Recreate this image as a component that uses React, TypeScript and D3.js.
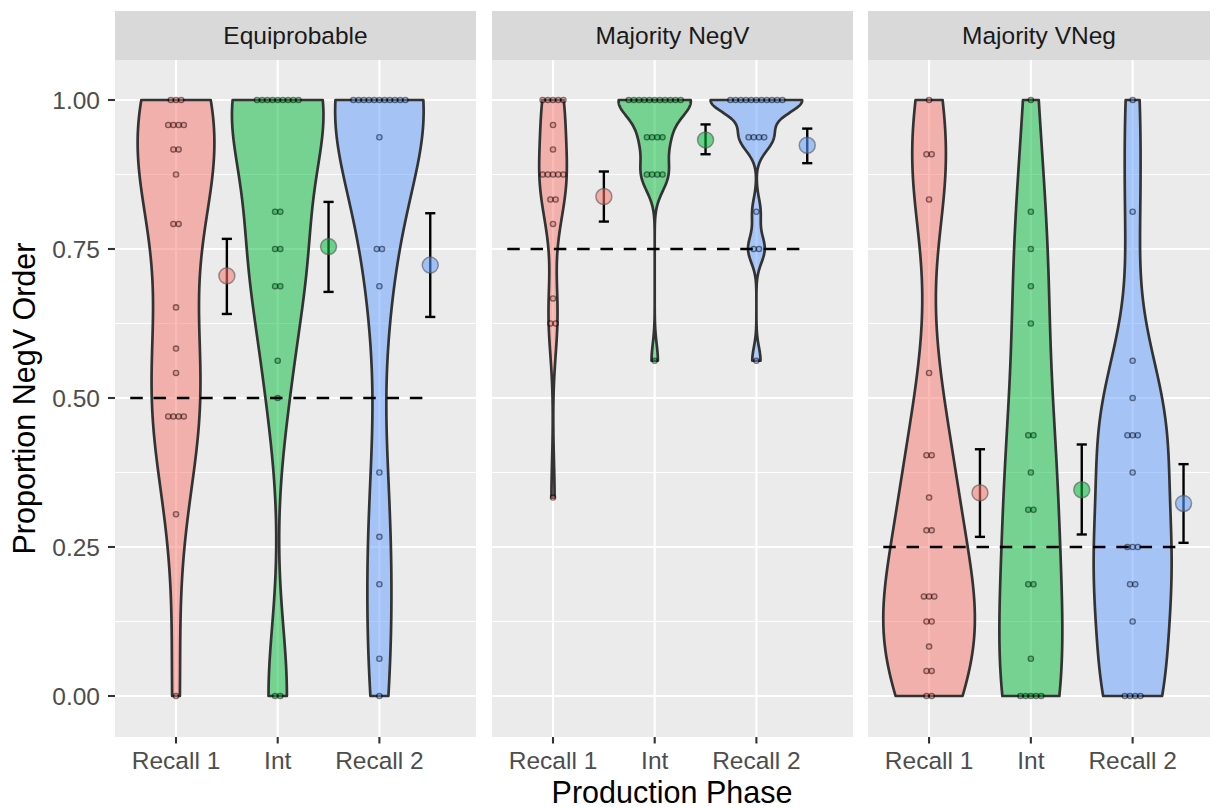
import React from 'react'
import * as d3 from 'd3'

// phases on the x axis, one facet per condition
const phases = ['Recall 1', 'Int', 'Recall 2']
const conditions = ['Equiprobable', 'Majority NegV', 'Majority VNeg']
const baselines = [0.5, 0.75, 0.25]
const phaseColors = ['#F8766D', '#00BA38', '#619CFF']

const yTicks = [0, 0.25, 0.5, 0.75, 1]
const yTickLabels = ['0.00', '0.25', '0.50', '0.75', '1.00']
const yMinor = [0.125, 0.375, 0.625, 0.875]

// per-participant proportions
const equiRecall1 = [1, 1, 1, 0.958, 0.958, 0.958, 0.958, 0.917, 0.917, 0.875, 0.792, 0.792, 0.652, 0.583, 0.542, 0.469, 0.469, 0.469, 0.469, 0.305, 0]
const equiInt = [1, 1, 1, 1, 1, 1, 1, 1, 1, 0.8125, 0.8125, 0.75, 0.75, 0.6875, 0.6875, 0.5625, 0.5, 0, 0]
const equiRecall2 = [1, 1, 1, 1, 1, 1, 1, 1, 1, 1, 1, 0.9375, 0.75, 0.75, 0.6875, 0.375, 0.267, 0.1875, 0.0625, 0]

const negvRecall1 = [1, 1, 1, 1, 1, 0.958, 0.917, 0.875, 0.875, 0.875, 0.875, 0.875, 0.833, 0.833, 0.792, 0.667, 0.625, 0.625, 0.333]
const negvInt = [1, 1, 1, 1, 1, 1, 1, 1, 1, 1, 1, 0.9375, 0.9375, 0.9375, 0.9375, 0.875, 0.875, 0.875, 0.875, 0.5625]
const negvRecall2 = [1, 1, 1, 1, 1, 1, 1, 1, 1, 1, 1, 0.9375, 0.9375, 0.9375, 0.9375, 0.8125, 0.75, 0.75, 0.5625]

const vnegRecall1 = [1, 0.909, 0.909, 0.833, 0.542, 0.404, 0.404, 0.333, 0.278, 0.278, 0.167, 0.167, 0.167, 0.125, 0.125, 0.083, 0.042, 0.042, 0, 0]
const vnegInt = [1, 0.8125, 0.75, 0.6875, 0.625, 0.4375, 0.4375, 0.375, 0.3125, 0.3125, 0.1875, 0.1875, 0.0625, 0, 0, 0, 0, 0]
const vnegRecall2 = [1, 0.8125, 0.5625, 0.5, 0.4375, 0.4375, 0.4375, 0.375, 0.25, 0.25, 0.25, 0.1875, 0.1875, 0.125, 0, 0, 0, 0]

// group means with error bars (lo / hi), per condition in phase order
const meanEqui = [0.705, 0.754, 0.723]
const loEqui = [0.641, 0.678, 0.636]
const hiEqui = [0.767, 0.829, 0.81]
const meanNegv = [0.838, 0.933, 0.924]
const loNegv = [0.796, 0.909, 0.894]
const hiNegv = [0.88, 0.959, 0.952]
const meanVneg = [0.341, 0.346, 0.323]
const loVneg = [0.267, 0.271, 0.257]
const hiVneg = [0.414, 0.422, 0.389]

const groups = [
  [equiRecall1, equiInt, equiRecall2],
  [negvRecall1, negvInt, negvRecall2],
  [vnegRecall1, vnegInt, vnegRecall2],
]
const means = [meanEqui, meanNegv, meanVneg]
const los = [loEqui, loNegv, loVneg]
const his = [hiEqui, hiNegv, hiVneg]

const W = 1217
const H = 808
const panelTop = 60
const panelBottom = 737
const stripTop = 11
const panels = [
  { x0: 115, x1: 476, dom: [0.4, 3.95] },
  { x0: 492, x1: 853, dom: [0.4, 3.95] },
  { x0: 868, x1: 1210, dom: [0.4, 3.76] },
]
const font = '"Liberation Sans", Arial, Helvetica, sans-serif'

const y = d3.scaleLinear().domain([-0.0688, 1.0671]).range([panelBottom, panelTop])

// gaussian kde with R's bw.nrd0, trimmed to the data range
function kde(values: number[]) {
  const n = values.length
  const sorted = values.slice().sort(d3.ascending)
  const sd = d3.deviation(values) || 0
  const iqr = d3.quantileSorted(sorted, 0.75) - d3.quantileSorted(sorted, 0.25)
  let lo = Math.min(sd, iqr / 1.34)
  if (!lo) lo = sd || Math.abs(sorted[0]) || 1
  const bw = 0.9 * lo * Math.pow(n, -0.2)
  const [mn, mx] = d3.extent(values) as [number, number]
  return d3.range(512).map((i) => {
    const v = mn + ((mx - mn) * i) / 511
    const d = d3.mean(values, (x) => Math.exp(-0.5 * ((v - x) / bw) ** 2)) / (bw * Math.sqrt(2 * Math.PI))
    return { v, d }
  })
}

function Panel({ p }: { p: number }) {
  const { x0, x1, dom } = panels[p]
  const x = d3.scaleLinear().domain(dom).range([x0, x1])
  const unit = x(2) - x(1)
  const dens = groups[p].map(kde)
  const maxD = d3.max(dens.flat(), (d) => d.d)
  const dotR = 2.6
  const dotStep = 5.2

  return (
    <g>
      <rect x={x0} y={panelTop} width={x1 - x0} height={panelBottom - panelTop} fill="#EBEBEB" />
      {yMinor.map((t) => (
        <line key={'mn' + t} x1={x0} x2={x1} y1={y(t)} y2={y(t)} stroke="#fff" strokeWidth={1} />
      ))}
      {yTicks.map((t) => (
        <line key={'mj' + t} x1={x0} x2={x1} y1={y(t)} y2={y(t)} stroke="#fff" strokeWidth={2.1} />
      ))}
      {phases.map((ph, i) => (
        <line key={'v' + ph} x1={x(i + 1)} x2={x(i + 1)} y1={panelTop} y2={panelBottom} stroke="#fff" strokeWidth={2.1} />
      ))}

      {/* violins */}
      {dens.map((pts, i) => {
        const cx = x(i + 1)
        const area = d3
          .area<{ v: number; d: number }>()
          .y((d) => y(d.v))
          .x0((d) => cx - (d.d / maxD) * 0.45 * unit)
          .x1((d) => cx + (d.d / maxD) * 0.45 * unit)
        return (
          <path
            key={'vio' + i}
            d={area(pts) + 'Z'}
            fill={phaseColors[i]}
            fillOpacity={0.5}
            stroke="#333333"
            strokeWidth={2.7}
            strokeLinejoin="round"
          />
        )
      })}

      {/* dot plots */}
      {groups[p].map((vals, i) => {
        const cx = x(i + 1)
        const bins = d3.rollups(vals, (v) => v.length, (v) => v)
        return bins.flatMap(([val, k]) =>
          d3.range(k).map((j) => (
            <circle
              key={`d${i}-${val}-${j}`}
              cx={cx + (j - (k - 1) / 2) * dotStep}
              cy={y(val)}
              r={dotR}
              fill={phaseColors[i]}
              stroke="#000"
              strokeWidth={1.4}
              opacity={0.5}
            />
          ))
        )
      })}

      {/* chance / input line */}
      <line
        x1={x(0.55)}
        x2={x(3.45)}
        y1={y(baselines[p])}
        y2={y(baselines[p])}
        stroke="#000"
        strokeWidth={2.4}
        strokeDasharray="12.5 10.8"
      />

      {/* means and error bars */}
      {phases.map((ph, i) => {
        const mx = x(i + 1.5)
        const cap = 0.05 * unit
        return (
          <g key={'m' + ph}>
            <line x1={mx} x2={mx} y1={y(los[p][i])} y2={y(his[p][i])} stroke="#000" strokeWidth={2.4} />
            <line x1={mx - cap} x2={mx + cap} y1={y(los[p][i])} y2={y(los[p][i])} stroke="#000" strokeWidth={2.4} />
            <line x1={mx - cap} x2={mx + cap} y1={y(his[p][i])} y2={y(his[p][i])} stroke="#000" strokeWidth={2.4} />
            <circle cx={mx} cy={y(means[p][i])} r={8} fill={phaseColors[i]} fillOpacity={0.55} stroke="#555" strokeOpacity={0.6} strokeWidth={1.5} />
          </g>
        )
      })}

      {/* strip */}
      <rect x={x0} y={stripTop} width={x1 - x0} height={panelTop - stripTop} fill="#D9D9D9" />
      <text x={(x0 + x1) / 2} y={(stripTop + panelTop) / 2} dy="0.35em" textAnchor="middle" fontSize={24.5} fill="#1A1A1A" fontFamily={font}>
        {conditions[p]}
      </text>

      {/* x axis */}
      {phases.map((ph, i) => (
        <g key={'xt' + ph}>
          <line x1={x(i + 1)} x2={x(i + 1)} y1={panelBottom} y2={panelBottom + 6.5} stroke="#333" strokeWidth={2.1} />
          <text x={x(i + 1)} y={769} textAnchor="middle" fontSize={24.5} fill="#4D4D4D" fontFamily={font}>
            {ph}
          </text>
        </g>
      ))}
    </g>
  )
}

export default function App() {
  return (
    <svg width={W} height={H} style={{ position: 'absolute', left: 0, top: 0, background: '#fff' }}>
      {panels.map((_, p) => (
        <Panel key={p} p={p} />
      ))}
      {yTicks.map((t, i) => (
        <g key={'yt' + t}>
          <line x1={108} x2={115} y1={y(t)} y2={y(t)} stroke="#333" strokeWidth={2.1} />
          <text x={100} y={y(t)} dy="0.36em" textAnchor="end" fontSize={24.5} fill="#4D4D4D" fontFamily={font}>
            {yTickLabels[i]}
          </text>
        </g>
      ))}
      <text x={672} y={803} textAnchor="middle" fontSize={30.5} fill="#000" fontFamily={font}>
        Production Phase
      </text>
      <text transform={`translate(35,${(panelTop + panelBottom) / 2}) rotate(-90)`} textAnchor="middle" fontSize={30.5} fill="#000" fontFamily={font}>
        Proportion NegV Order
      </text>
    </svg>
  )
}
